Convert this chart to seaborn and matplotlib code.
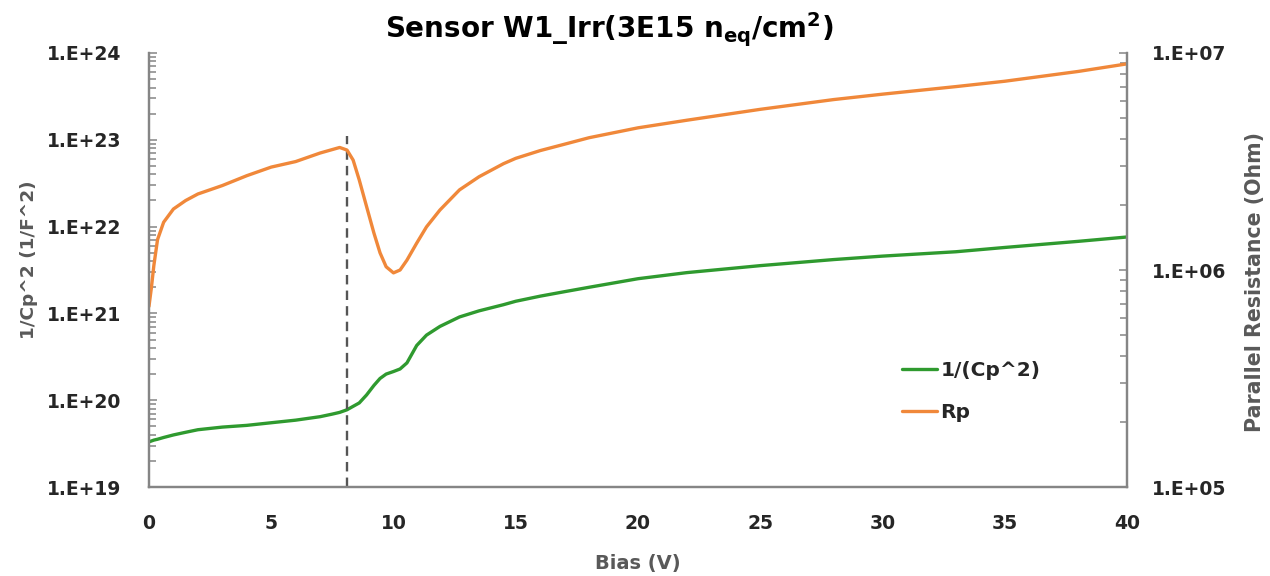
import math
import matplotlib
matplotlib.use("Agg")
import matplotlib.pyplot as plt
from matplotlib.ticker import LogLocator, MultipleLocator, FuncFormatter, NullFormatter
import seaborn as sns
import pandas as pd

# Bias sweep (V)
bias = [0, 0.1, 0.2, 0.35, 0.6, 1, 1.5, 2, 3, 4,
        5, 6, 7, 7.5, 7.8, 8.1, 8.35, 8.6, 8.9, 9.2,
        9.45, 9.7, 10, 10.27, 10.55, 10.95, 11.35, 11.9, 12.7, 13.5,
        14.5, 15, 16, 17, 18, 20, 22, 25, 28, 30,
        33, 35, 38, 40]

# 1/Cp^2 (1/F^2)
inv_cp2 = [3.31e19, 3.39e19, 3.47e19, 3.55e19, 3.72e19, 3.98e19, 4.27e19, 4.57e19, 4.90e19, 5.13e19,
           5.50e19, 5.89e19, 6.46e19, 6.92e19, 7.24e19, 7.76e19, 8.50e19, 9.30e19, 1.15e20, 1.48e20,
           1.78e20, 2.00e20, 2.14e20, 2.29e20, 2.69e20, 4.27e20, 5.62e20, 7.08e20, 9.10e20, 1.07e21,
           1.26e21, 1.38e21, 1.58e21, 1.78e21, 2.00e21, 2.51e21, 2.95e21, 3.55e21, 4.17e21, 4.57e21,
           5.13e21, 5.75e21, 6.76e21, 7.59e21]

# Parallel resistance Rp (Ohm)
rp = [6.8e5, 8.3e5, 1.05e6, 1.38e6, 1.66e6, 1.91e6, 2.09e6, 2.24e6, 2.45e6, 2.72e6,
      2.98e6, 3.16e6, 3.46e6, 3.59e6, 3.67e6, 3.57e6, 3.21e6, 2.60e6, 1.96e6, 1.48e6,
      1.20e6, 1.035e6, 9.7e5, 1.00e6, 1.11e6, 1.33e6, 1.58e6, 1.89e6, 2.34e6, 2.69e6,
      3.09e6, 3.27e6, 3.55e6, 3.80e6, 4.07e6, 4.52e6, 4.90e6, 5.50e6, 6.10e6, 6.46e6,
      7.00e6, 7.41e6, 8.22e6, 8.91e6]

# Marker voltage and the height of the guide line (left-axis units)
marker_bias = 8.1
marker_top = 1.1e23

x_ticks = [0, 5, 10, 15, 20, 25, 30, 35, 40]

df = pd.DataFrame({"Bias": bias, "InvCp2": inv_cp2, "Rp": rp})

sns.set_style("white")
plt.rcParams["font.family"] = ["DejaVu Sans"]
plt.rcParams["font.weight"] = "bold"
plt.rcParams["mathtext.fontset"] = "custom"
plt.rcParams["mathtext.rm"] = "DejaVu Sans:bold"
plt.rcParams["mathtext.it"] = "DejaVu Sans:bold"
plt.rcParams["mathtext.bf"] = "DejaVu Sans:bold"

GREEN = "#2f9a2f"
ORANGE = "#f0883a"
SPINE = "#858585"
TICK_TXT = "#262626"
LABEL_TXT = "#595959"

fig = plt.figure(figsize=(12.7, 5.76), dpi=100)
ax = fig.add_axes([0.1173, 0.1545, 0.7701, 0.7535])
ax2 = ax.twinx()

line_kw = dict(linewidth=2.4, solid_joinstyle="round", solid_capstyle="round")
sns.lineplot(data=df, x="Bias", y="InvCp2", ax=ax, color=GREEN, label="1/(Cp^2)", legend=False, **line_kw)
sns.lineplot(data=df, x="Bias", y="Rp", ax=ax2, color=ORANGE, label="Rp", legend=False, **line_kw)

ax.vlines(marker_bias, 1e19, marker_top, colors="#555555", linestyles=(0, (4, 2.6)), linewidth=1.7)

ax.set_xlim(0, 40)
ax.set_yscale("log")
ax.set_ylim(1e19, 1e24)
ax2.set_yscale("log")
ax2.set_ylim(1e5, 1e7)

sci = FuncFormatter(lambda v, p: "1.E+%02d" % round(math.log10(v)))

ax.set_xticks(x_ticks)
ax.xaxis.set_minor_locator(MultipleLocator(1))
for a in (ax, ax2):
    a.yaxis.set_major_locator(LogLocator(base=10, numticks=10))
    a.yaxis.set_minor_locator(LogLocator(base=10, subs=range(2, 10), numticks=10))
    a.yaxis.set_major_formatter(sci)
    a.yaxis.set_minor_formatter(NullFormatter())
    a.spines["top"].set_visible(False)
    for s in ("left", "right", "bottom"):
        a.spines[s].set_color(SPINE)
        a.spines[s].set_linewidth(1.6)

ax.tick_params(axis="x", which="major", direction="in", length=8, width=1.3, color=SPINE, pad=19.5)
ax.tick_params(axis="x", which="minor", direction="in", length=5, width=1.1, color=SPINE)
ax.tick_params(axis="y", which="major", direction="in", length=6, width=1.1, color=SPINE, pad=20)
ax.tick_params(axis="y", which="minor", direction="in", length=5, width=1.1, color=SPINE)
ax2.tick_params(axis="y", which="major", direction="in", length=6, width=1.1, color=SPINE, pad=18)
ax2.tick_params(axis="y", which="minor", direction="in", length=5, width=1.1, color=SPINE)
for lab in ax.get_xticklabels() + ax.get_yticklabels() + ax2.get_yticklabels():
    lab.set_fontsize(13.5)
    lab.set_fontweight("bold")
    lab.set_color(TICK_TXT)

label_font = dict(fontweight="bold", color=LABEL_TXT)
ax.set_xlabel("Bias (V)", fontsize=14, labelpad=15, **label_font)
ax.set_ylabel("1/Cp^2 (1/F^2)", fontsize=13.3, **label_font)
ax2.set_ylabel("Parallel Resistance (Ohm)", fontsize=14.8, **label_font)
ax.yaxis.set_label_coords(-0.1135, 0.523)
ax2.yaxis.set_label_coords(1.1207, 0.4735)

fig.text(0.48, 0.948, r"Sensor W1_Irr(3E15 n$_{\mathregular{eq}}$/cm$^{\mathregular{2}}$)",
         ha="center", va="center", fontsize=20, fontweight="bold", color="black")

h1, l1 = ax.get_legend_handles_labels()
h2, l2 = ax2.get_legend_handles_labels()
leg = ax2.legend(h1 + h2, l1 + l2, loc="center left", bbox_to_anchor=(0.77, 0.22),
                 frameon=False, handlelength=1.75, handletextpad=0.15, labelspacing=1.1,
                 borderpad=0, borderaxespad=0,
                 prop={"family": "DejaVu Sans", "weight": "bold", "size": 14.5})
for t in leg.get_texts():
    t.set_color(TICK_TXT)

fig.savefig("out.png", dpi=100)
